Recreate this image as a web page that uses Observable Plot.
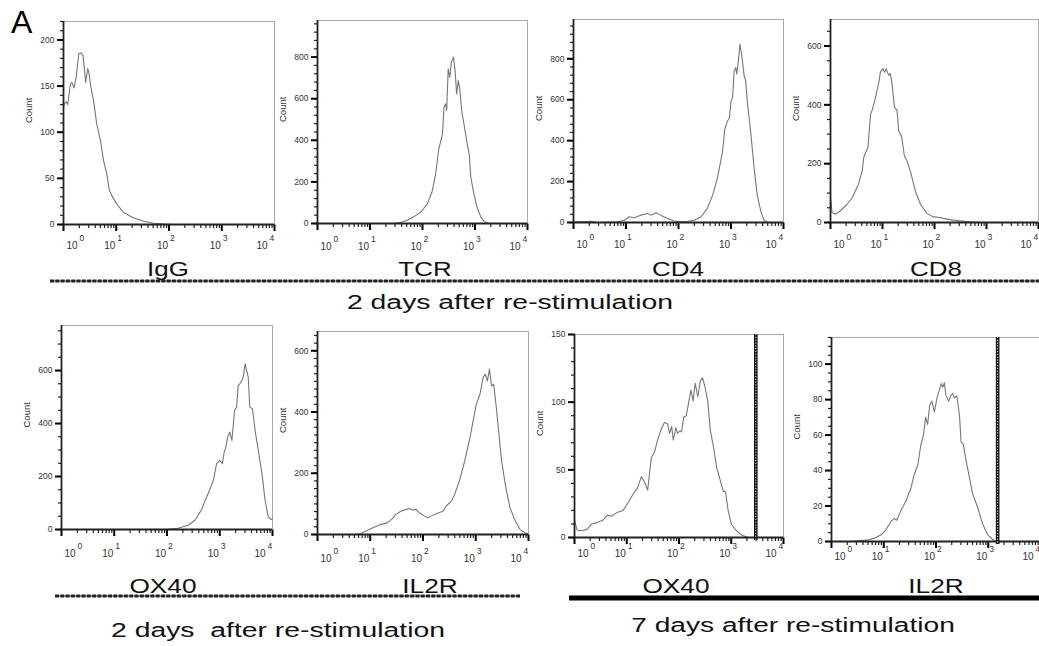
<!DOCTYPE html>
<html><head><meta charset="utf-8">
<script src="https://cdn.jsdelivr.net/npm/d3@7"></script>
<script src="https://cdn.jsdelivr.net/npm/@observablehq/plot@0.6"></script>
<style>
html,body{margin:0;padding:0;background:#fff;overflow:hidden;}
#root{position:relative;width:1039px;height:646px;overflow:hidden;font-family:"Liberation Sans",Arial,sans-serif;}
#root svg{position:absolute;}
</style></head><body><div id="root"></div>
<script>
// ---- data: x = log10 fluorescence, c = cell count ----
const igG_e = [0,0.01,0.05,0.08,0.13,0.16,0.20,0.24,0.29,0.33,0.37,0.40,0.42,0.46,0.48,0.51,0.57,0.63,0.70,0.76,0.82,0.87,0.92,1.01,1.14,1.33,1.52,1.71,1.90,2.1,4.0];
const igG_c = [128,130,133,130,152,154,148,160,185,186,183,167,154,169,165,152,134,109,91,69,55,37,31,22,13,7,3.6,1.4,0.5,0,0];
const tcr_e = [0,1.40,1.50,1.58,1.71,1.83,1.96,2.09,2.18,2.25,2.31,2.38,2.41,2.44,2.46,2.49,2.52,2.55,2.59,2.62,2.65,2.68,2.71,2.75,2.79,2.84,2.89,2.92,2.98,3.04,3.11,3.18,3.27,4.0];
const tcr_c = [0,0,2,5,16,32,53,93,150,238,358,430,560,575,543,744,703,776,800,736,623,687,647,535,479,398,334,222,141,77,32,8,0,0];
const cd4_e = [0,0.01,0.2,0.33,0.46,0.65,0.84,0.97,1.06,1.16,1.28,1.41,1.47,1.57,1.66,1.79,1.92,2.04,2.17,2.30,2.43,2.55,2.65,2.74,2.84,2.88,2.93,2.97,3.00,3.03,3.06,3.09,3.11,3.14,3.17,3.21,3.25,3.28,3.31,3.38,3.44,3.50,3.57,3.63,3.70,4.0];
const cd4_c = [8,6,4,6,0,1,3,11,28,23,36,44,36,48,36,20,7,3,6,11,28,69,134,216,348,454,495,511,593,610,741,757,725,790,872,807,716,692,593,430,266,134,52,11,0,0];
const cd8_e = [0,0.03,0.10,0.19,0.32,0.42,0.48,0.54,0.61,0.64,0.72,0.77,0.80,0.86,0.93,0.96,1.01,1.04,1.07,1.12,1.15,1.18,1.23,1.28,1.31,1.37,1.42,1.47,1.55,1.63,1.73,1.85,1.98,2.11,2.17,2.36,2.62,2.88,4.0];
const cd8_c = [85,34,28,40,62,85,108,131,176,222,256,369,381,420,477,511,523,511,523,500,506,477,392,381,313,290,227,210,165,108,62,31,19,17,14,8,3,0,0];
const ox40d2_e = [0,1.89,2.02,2.21,2.40,2.53,2.65,2.78,2.88,2.94,3.00,3.05,3.09,3.11,3.15,3.19,3.23,3.28,3.32,3.35,3.38,3.42,3.45,3.48,3.51,3.54,3.57,3.62,3.67,3.73,3.80,3.86,3.92,3.97,4.0];
const ox40d2_c = [0,0,1,5,16,35,73,136,186,249,261,249,299,305,349,368,336,449,462,544,550,562,581,625,600,575,462,456,374,299,211,110,48,38,41];
const il2rd2_e = [0,0.72,0.82,0.94,1.07,1.20,1.32,1.42,1.48,1.58,1.68,1.74,1.80,1.87,1.93,2.03,2.09,2.15,2.25,2.38,2.44,2.54,2.60,2.69,2.79,2.89,2.95,3.01,3.08,3.14,3.18,3.22,3.26,3.30,3.34,3.39,3.44,3.49,3.57,3.65,3.75,3.84,3.94,4.0];
const il2rd2_c = [0,0,3,13,24,33,38,52,65,76,82,85,80,82,71,60,55,60,68,76,93,109,131,175,240,316,371,425,458,513,524,502,540,485,491,415,327,240,153,87,44,16,5,2];
const ox40d7_e = [0,0.05,0.14,0.24,0.33,0.43,0.55,0.63,0.71,0.81,0.93,1.03,1.12,1.21,1.28,1.34,1.40,1.47,1.53,1.59,1.65,1.72,1.78,1.82,1.86,1.89,1.94,1.97,2.02,2.05,2.09,2.14,2.19,2.23,2.27,2.31,2.36,2.41,2.45,2.50,2.55,2.60,2.66,2.72,2.79,2.85,2.89,2.94,3.00,3.10,3.19,3.32,4.0];
const ox40d7_c = [12.8,5.4,5,6,10,11,13,16.5,15.7,18.4,20,26,32,37,45,41,35,59,63,72,79,85,84,77,82,72,81,77,79,78,89,90,101,109,101,114,104,116,118,111,101,79,67,52,42,34,34,20,10,5,2,0,0];
const il2rd7_e = [0,0.37,0.50,0.69,0.82,0.95,1.04,1.14,1.20,1.25,1.32,1.42,1.52,1.58,1.65,1.71,1.76,1.80,1.84,1.88,1.92,1.97,2.02,2.06,2.10,2.13,2.16,2.19,2.24,2.29,2.32,2.35,2.40,2.45,2.48,2.52,2.58,2.64,2.70,2.80,2.89,2.99,3.09,3.15,4.0];
const il2rd7_c = [0,0,0.4,0.75,1.9,3.75,6.6,11.3,13,12,17,22.5,30,37.5,43,54.4,60,70,66,77,79,73,81,85,89,87,89.5,82.5,79,82.5,83.5,81,82,71,56,55,45,36,27,19,10,3.75,1,0,0];
// gates (log10 position)
const ox40d7_gate = 3.47;
const il2rd7_gate = 3.18;
// axis tick labels
const decades = [1, 10, 100, 1000, 10000];
const yTicks_igG = [0,50,100,150,200];
const yTicks_tcr = [0,200,400,600,800];
const yTicks_cd4 = [0,200,400,600,800];
const yTicks_cd8 = [0,200,400,600];
const yTicks_ox40d2 = [0,200,400,600];
const yTicks_il2rd2 = [0,200,400,600];
const yTicks_ox40d7 = [0,50,100,150];
const yTicks_il2rd7 = [0,20,40,60,80,100];
const markerLabels = ["IgG","TCR","CD4","CD8","OX40","IL2R","OX40","IL2R"];

// ---- layout ----
const panels = [
  {e: igG_e, c: igG_c, yt: yTicks_igG, ymax: 220, minor: 10, L: 63, T: 21, R: 274, B: 224, xoff: 24},
  {e: tcr_e, c: tcr_c, yt: yTicks_tcr, ymax: 976, minor: 40, L: 317, T: 20, R: 527, B: 223, xoff: 26},
  {e: cd4_e, c: cd4_c, yt: yTicks_cd4, ymax: 992, minor: 40, L: 573, T: 19, R: 783, B: 222, xoff: 25},
  {e: cd8_e, c: cd8_c, yt: yTicks_cd8, ymax: 690, minor: 50, L: 830, T: 19, R: 1038, B: 222, xoff: 25},
  {e: ox40d2_e, c: ox40d2_c, yt: yTicks_ox40d2, ymax: 770, minor: 50, L: 61, T: 325, R: 272, B: 529, xoff: 27},
  {e: il2rd2_e, c: il2rd2_c, yt: yTicks_il2rd2, ymax: 663, minor: 25, L: 317, T: 331, R: 528, B: 534, xoff: 27},
  {e: ox40d7_e, c: ox40d7_c, yt: yTicks_ox40d7, ymax: 150, minor: 10, L: 574, T: 334, R: 783, B: 537, xoff: 19, gate: ox40d7_gate},
  {e: il2rd7_e, c: il2rd7_c, yt: yTicks_il2rd7, ymax: 115, minor: 5, L: 831, T: 337, R: 1040, B: 541, xoff: 18, gate: il2rd7_gate}
];

const root = document.getElementById("root");
const minorX = [];
for (let k = 0; k < 4; k++) for (let m = 2; m <= 9; m++) minorX.push(m * 10 ** k);

function panel(p) {
  const mL = 44, mR = 6, mT = 4, mB = 32;
  const data = p.e.map((e, i) => ({x: 10 ** e, c: p.c[i]}));
  const minorY = d3.range(0, p.ymax + 1e-9, p.minor);
  // tick lengths converted from pixels into scale units
  const pxPerDecade = (p.R - p.L) / 4;
  const pxPerCount = (p.B - p.T) / p.ymax;
  const xLeft = len => 10 ** (-len / pxPerDecade);
  const yDown = len => -len / pxPerCount;
  const marks = [
    Plot.ruleY([p.ymax], {stroke: "#a9a9a9", strokeWidth: 1}),
    Plot.ruleX([1e4], {stroke: "#a9a9a9", strokeWidth: 1}),
    Plot.line(data, {x: "x", y: "c", stroke: "#777", strokeWidth: 1.1}),
    // y ticks (pointing left)
    Plot.link(minorY, {x1: 1, x2: xLeft(3.5), y1: d => d, y2: d => d, stroke: "#222", strokeWidth: 1.2}),
    Plot.link(p.yt, {x1: 1, x2: xLeft(6.5), y1: d => d, y2: d => d, stroke: "#000", strokeWidth: 2}),
    Plot.text(p.yt, {y: d => d, frameAnchor: "left", dx: -9, text: d => String(d), textAnchor: "end", fontSize: 8.5, fill: "#333"}),
    // x ticks (pointing down)
    Plot.link(minorX, {x1: d => d, x2: d => d, y1: 0, y2: yDown(3.5), stroke: "#222", strokeWidth: 1.2}),
    Plot.link(decades, {x1: d => d, x2: d => d, y1: 0, y2: yDown(6.5), stroke: "#000", strokeWidth: 2}),
    Plot.ruleX([1], {stroke: "#222", strokeWidth: 1.8}),
    Plot.ruleY([0], {stroke: "#222", strokeWidth: 1.8}),
    // decade labels "10" + exponent
    Plot.text([1], {x: d => d, frameAnchor: "bottom", dy: p.xoff, dx: 14, text: () => "10", textAnchor: "end", lineAnchor: "bottom", fontSize: 10, fill: "#333"}),
    Plot.text([1], {x: d => d, frameAnchor: "bottom", dy: p.xoff - 8, dx: 16, text: d => String(Math.round(Math.log10(d))), textAnchor: "start", lineAnchor: "bottom", fontSize: 8.5, fill: "#333"}),
    Plot.text([10, 100, 1000], {x: d => d, frameAnchor: "bottom", dy: p.xoff, dx: -1, text: () => "10", textAnchor: "end", lineAnchor: "bottom", fontSize: 10, fill: "#333"}),
    Plot.text([10, 100, 1000], {x: d => d, frameAnchor: "bottom", dy: p.xoff - 8, dx: 1, text: d => String(Math.round(Math.log10(d))), textAnchor: "start", lineAnchor: "bottom", fontSize: 8.5, fill: "#333"}),
    Plot.text([10000], {x: d => d, frameAnchor: "bottom", dy: p.xoff, dx: -7, text: () => "10", textAnchor: "end", lineAnchor: "bottom", fontSize: 10, fill: "#333"}),
    Plot.text([10000], {x: d => d, frameAnchor: "bottom", dy: p.xoff - 8, dx: -5, text: d => String(Math.round(Math.log10(d))), textAnchor: "start", lineAnchor: "bottom", fontSize: 8.5, fill: "#333"}),
    Plot.text(["Count"], {frameAnchor: "left", dx: -35, rotate: -90, fontSize: 9.5, fill: "#333"})
  ];
  if (p.gate !== undefined) {
    marks.push(Plot.ruleX([10 ** p.gate], {stroke: "#111", strokeWidth: 3.6, insetBottom: -3}));
    marks.push(Plot.ruleX([10 ** p.gate], {stroke: "#fff", strokeWidth: 1, strokeDasharray: "1.2,1.6", insetBottom: -3}));
  }
  const svg = Plot.plot({
    width: p.R - p.L + mL + mR,
    height: p.B - p.T + mT + mB,
    marginLeft: mL, marginRight: mR, marginTop: mT, marginBottom: mB,
    x: {type: "log", domain: [1, 1e4], axis: null},
    y: {domain: [0, p.ymax], axis: null},
    style: {background: "transparent", fontFamily: "Liberation Sans, Arial, sans-serif", overflow: "visible", color: "#222"},
    marks
  });
  svg.style.left = (p.L - mL) + "px";
  svg.style.top = (p.T - mT) + "px";
  svg.style.maxWidth = "none";
  root.appendChild(svg);
}
panels.forEach(panel);

// ---- titles, separators ----
const ov = d3.select(root).append("svg").attr("width", 1039).attr("height", 646)
  .style("left", "0px").style("top", "0px").style("pointer-events", "none")
  .attr("font-family", "Liberation Sans, Arial, sans-serif");

function dashedRule(x1, x2, y) {
  ov.append("line").attr("x1", x1).attr("x2", x2).attr("y1", y).attr("y2", y)
    .attr("stroke", "#444").attr("stroke-width", 1.2);
  ov.append("line").attr("x1", x1).attr("x2", x2).attr("y1", y).attr("y2", y)
    .attr("stroke", "#222").attr("stroke-width", 3).attr("stroke-dasharray", "4,1.3");
}
dashedRule(50, 1039, 281);
dashedRule(55, 520, 596);
ov.append("line").attr("x1", 569).attr("x2", 1039).attr("y1", 598).attr("y2", 598)
  .attr("stroke", "#000").attr("stroke-width", 5);

function label(txt, cx, base, size, sx) {
  ov.append("text").attr("transform", `translate(${cx},${base}) scale(${sx},1)`)
    .attr("text-anchor", "middle").attr("font-size", size).attr("fill", "#111")
    .style("white-space", "pre").text(txt);
}
ov.append("text").attr("x", 11).attr("y", 33).attr("font-size", 32).attr("fill", "#000").text("A");
const row1x = [168, 425, 678, 936];
const row2x = [163, 430, 676, 936];
markerLabels.slice(0, 4).forEach((t, i) => label(t, row1x[i], 276, 19.5, 1.33));
markerLabels.slice(4).forEach((t, i) => label(t, row2x[i], 593, 20.5, 1.28));
label("2 days after re-stimulation", 510, 309, 21, 1.35);
label("2 days  after re-stimulation", 278, 637, 21, 1.35);
label("7 days after re-stimulation", 793, 632, 21, 1.34);
</script></body></html>
